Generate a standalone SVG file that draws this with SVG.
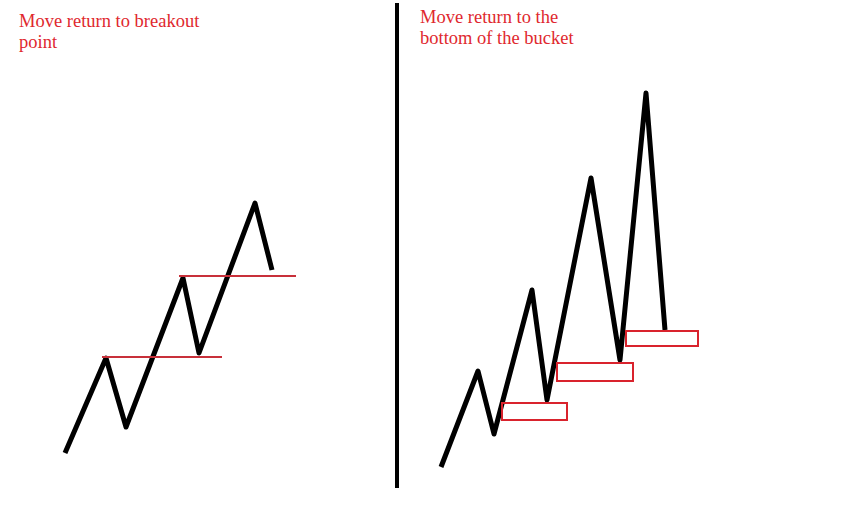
<svg xmlns="http://www.w3.org/2000/svg" width="862" height="506" viewBox="0 0 862 506">
<style>
.zig{fill:none;stroke:#000;stroke-width:5;stroke-linejoin:round;stroke-linecap:butt}
.lvl{stroke:#c8303a;stroke-width:2}
.box{fill:none;stroke:#d9232d;stroke-width:2}
.lbl{font-family:"Liberation Serif","Times New Roman",serif;font-size:18.5px;fill:#e0282e}
</style>
<rect width="862" height="506" fill="#fff"/>
<g id="divider"><line x1="397" y1="3" x2="397" y2="488" stroke="#000" stroke-width="4"/></g>
<g id="title-left"><text class="lbl" x="19" y="27">Move return to breakout</text><text class="lbl" x="19" y="48">point</text></g>
<g id="title-right"><text class="lbl" x="420" y="23">Move return to the</text><text class="lbl" x="420" y="44">bottom of the bucket</text></g>
<g id="connectors">
<polyline class="zig" points="65,453 106,358 126,427 183,278 199,353 255,203 272,270"/>
<polyline class="zig" points="441,467 478,371 494,434 532,290 547,400 591,178 620,360 646,93 665,330"/>
</g>
<g id="breakout-levels">
<line class="lvl" x1="102" y1="357" x2="222" y2="357"/>
<line class="lvl" x1="179" y1="276" x2="296" y2="276"/>
</g>
<g id="buckets">
<rect class="box" x="502" y="403" width="65" height="17"/>
<rect class="box" x="557" y="363" width="76" height="18"/>
<rect class="box" x="626" y="331" width="72" height="15"/>
</g>
</svg>
